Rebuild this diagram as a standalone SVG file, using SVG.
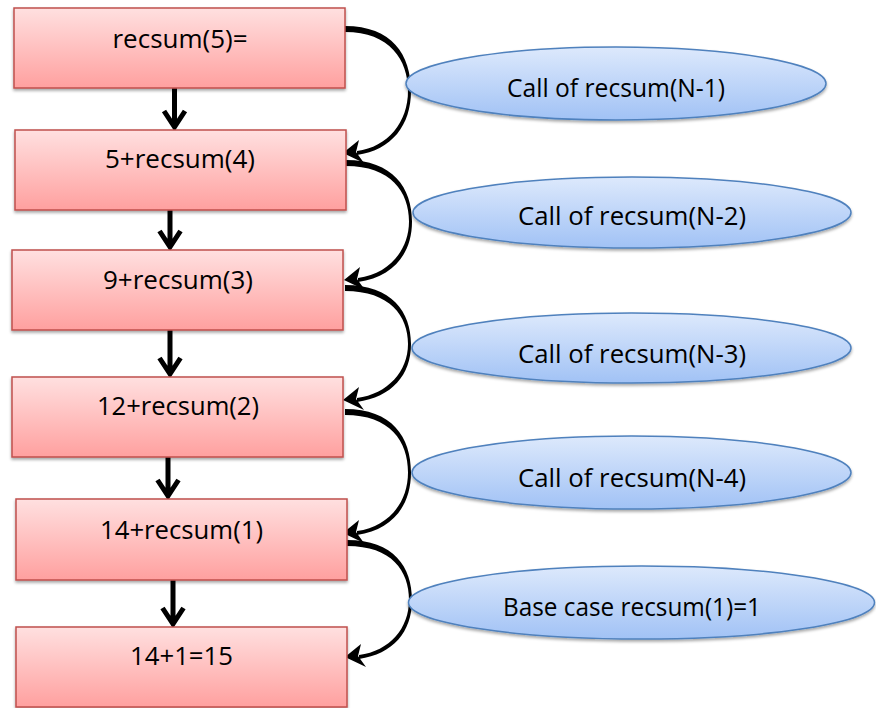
<svg xmlns="http://www.w3.org/2000/svg" width="876" height="708" viewBox="0 0 876 708">
<defs>
<linearGradient id="gBox" x1="0" y1="0" x2="0" y2="1">
<stop offset="0" stop-color="#FFE0E0"/>
<stop offset="1" stop-color="#FFA09F"/>
</linearGradient>
<linearGradient id="gEll" x1="0" y1="0" x2="0" y2="1">
<stop offset="0" stop-color="#DDE9FC"/>
<stop offset="1" stop-color="#A1C2F5"/>
</linearGradient>
<filter id="sh" x="-10%" y="-20%" width="120%" height="150%">
<feDropShadow dx="0" dy="2" stdDeviation="1.8" flood-color="#000" flood-opacity="0.35"/>
</filter>
</defs>
<style>
.box{fill:url(#gBox);stroke:#C0504D;stroke-width:1.5;filter:url(#sh)}
.ell{fill:url(#gEll);stroke:#4F81BD;stroke-width:1.5;filter:url(#sh)}
text{font-family:"Open Sans","Liberation Sans",sans-serif;font-size:25.5px;fill:#000;text-anchor:middle}
.down{stroke:#000;stroke-width:5;fill:none}
.curve{fill:#000}
</style>

<g id="connectors">
<!-- down arrows -->
<path class="down" d="M174.5,88 V127 M164,111 L174.5,127 L185,111"/>
<path class="down" d="M170,210 V247 M159.5,231 L170,247 L180.5,231"/>
<path class="down" d="M170,330 V374 M159.5,358 L170,374 L180.5,358"/>
<path class="down" d="M168,457 V496 M157.5,480 L168,496 L178.5,480"/>
<path class="down" d="M173,580 V624 M162.5,608 L173,624 L183.5,608"/>
<!-- curved call arrows -->
<path class="curve" d="M345,26 C392,26 411,55 411,91 C411,125 392,150 357,155 L357,151 C388,147 408,122 408,91 C408,60 390,32 345,32 Z"/>
<polygon class="curve" points="343,153 359,140 356,152 364,163"/>
<path class="curve" d="M346,160 C393,160 412,188 412,221.5 C412,254 393,277 358,282 L358,278 C389,274 409,250 409,221.5 C409,192 391,166 346,166 Z"/>
<polygon class="curve" points="344,280 360,267 357,279 365,290"/>
<path class="curve" d="M345,285 C392,285 411,312 411,344 C411,375 392,397 357,402 L357,398 C388,394 408,371 408,344 C408,316 390,291 345,291 Z"/>
<polygon class="curve" points="343,400 359,387 356,399 364,410"/>
<path class="curve" d="M345,409 C392,409 411,437 411,472.5 C411,506 392,530 357,535 L357,531 C388,527 408,503 408,472.5 C408,441 390,415 345,415 Z"/>
<polygon class="curve" points="343,533 359,520 356,532 364,543"/>
<path class="curve" d="M347,540 C394,540 412,567 412,600 C412,632 393,654 359,659 L359,655 C390,651 409,628 409,600 C409,571 392,546 347,546 Z"/>
<polygon class="curve" points="345,657 361,644 358,656 366,667"/>
</g>

<g id="box1"><rect class="box" x="14" y="8" width="331" height="80"/><text x="180" y="48" textLength="135" lengthAdjust="spacingAndGlyphs">recsum(5)=</text></g>
<g id="box2"><rect class="box" x="15" y="130" width="331" height="80"/><text x="180" y="168" textLength="150" lengthAdjust="spacingAndGlyphs">5+recsum(4)</text></g>
<g id="box3"><rect class="box" x="12" y="250" width="331" height="80"/><text x="178" y="289" textLength="150" lengthAdjust="spacingAndGlyphs">9+recsum(3)</text></g>
<g id="box4"><rect class="box" x="12" y="377" width="331" height="80"/><text x="178" y="415" textLength="162" lengthAdjust="spacingAndGlyphs">12+recsum(2)</text></g>
<g id="box5"><rect class="box" x="16" y="499" width="331" height="81"/><text x="181.5" y="539" textLength="163" lengthAdjust="spacingAndGlyphs">14+recsum(1)</text></g>
<g id="box6"><rect class="box" x="16" y="627" width="331" height="80"/><text x="181.5" y="665" textLength="103" lengthAdjust="spacingAndGlyphs">14+1=15</text></g>

<g id="ell1"><ellipse class="ell" cx="616" cy="83.5" rx="210" ry="36.5"/><text x="616" y="97" textLength="218" lengthAdjust="spacingAndGlyphs">Call of recsum(N-1)</text></g>
<g id="ell2"><ellipse class="ell" cx="632" cy="212.5" rx="219" ry="35.5"/><text x="632" y="225" textLength="228" lengthAdjust="spacingAndGlyphs">Call of recsum(N-2)</text></g>
<g id="ell3"><ellipse class="ell" cx="631.5" cy="348" rx="219.5" ry="35"/><text x="632" y="363" textLength="228" lengthAdjust="spacingAndGlyphs">Call of recsum(N-3)</text></g>
<g id="ell4"><ellipse class="ell" cx="631.5" cy="472.5" rx="219.5" ry="36.5"/><text x="632" y="487" textLength="228" lengthAdjust="spacingAndGlyphs">Call of recsum(N-4)</text></g>
<g id="ell5"><ellipse class="ell" cx="641.5" cy="602.5" rx="233" ry="36.5"/><text x="632" y="616" textLength="258" lengthAdjust="spacingAndGlyphs">Base case recsum(1)=1</text></g>
</svg>
